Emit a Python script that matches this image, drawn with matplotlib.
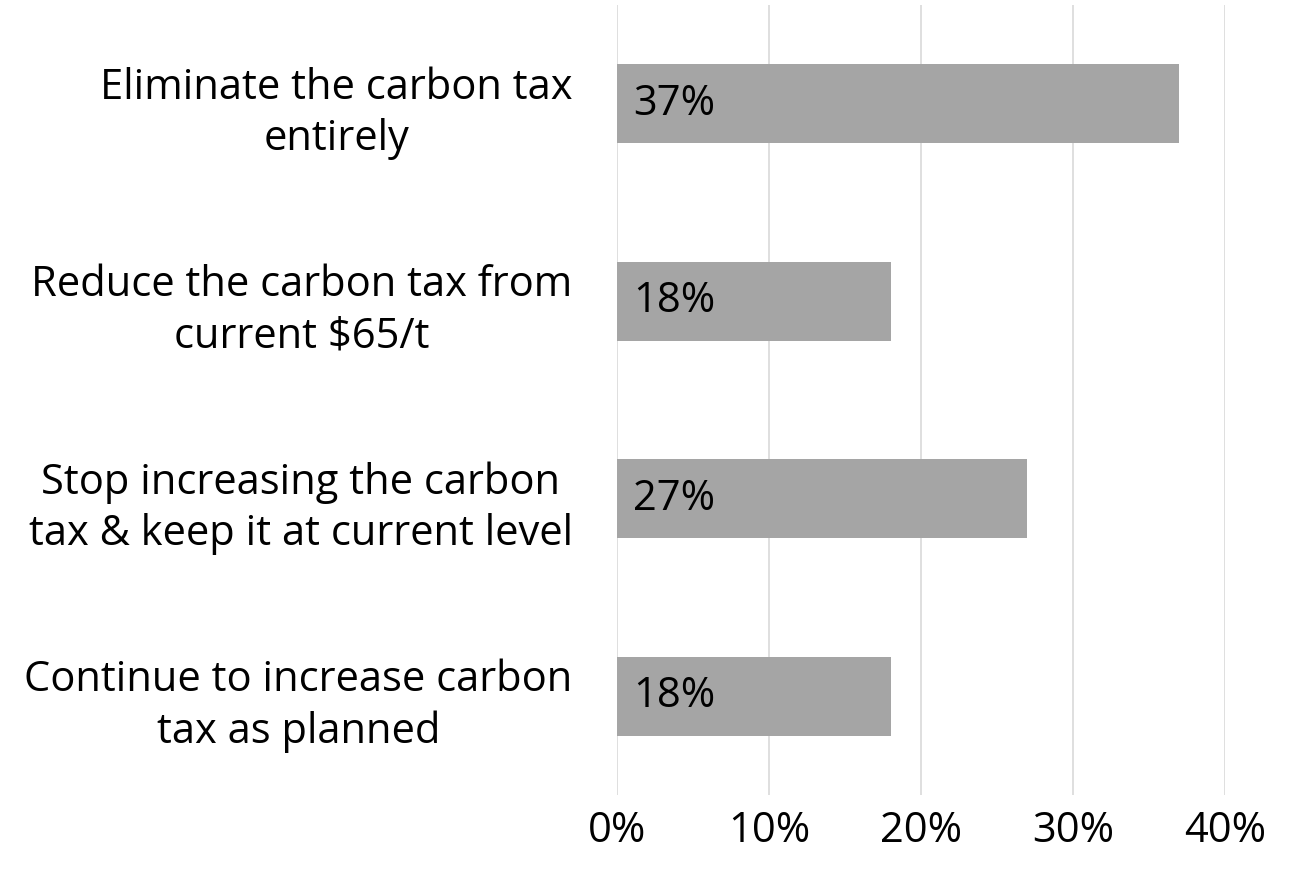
import numpy as np
import matplotlib.pyplot as plt

# Data
categories = ["Eliminate the carbon tax\nentirely",
              "Reduce the carbon tax from\ncurrent $65/t",
              "Stop increasing the carbon\ntax & keep it at current level",
              "Continue to increase carbon\ntax as planned"]
values = [0.37, 0.18, 0.27, 0.18]
xticks = [0, 0.1, 0.2, 0.3, 0.4]
xtick_labels = ["0%", "10%", "20%", "30%", "40%"]

plt.rcParams['font.family'] = ['Open Sans', 'DejaVu Sans']

fig = plt.figure(figsize=(12.94, 8.75), dpi=100)
ax = fig.add_axes([0.4768, 0.0914, 0.4699, 0.9029])

y = np.arange(len(categories))
ax.barh(y, values, height=0.4, color='#A5A5A5', zorder=2)

for yi, v in zip(y, values):
    ax.text(0.0105, yi, "{:.0f}%".format(v * 100), va='center', ha='left',
            fontsize=30, color='#000000', zorder=3)

ax.set_ylim(3.5, -0.5)
ax.set_xlim(0, 0.4)
ax.set_xticks(xticks)
ax.set_xticklabels(xtick_labels, fontsize=30)
ax.set_yticks(y)
ax.set_yticklabels(categories, fontsize=30)
for lbl in ax.get_yticklabels():
    lbl.set_multialignment('center')
    lbl.set_linespacing(1.28)
ax.tick_params(axis='y', length=0, pad=32)
ax.tick_params(axis='x', length=0, pad=11)
ax.grid(axis='x', color='#D9D9D9', linewidth=1.2, zorder=0)
for s in ax.spines.values():
    s.set_visible(False)

fig.savefig("out.png", dpi=100)
